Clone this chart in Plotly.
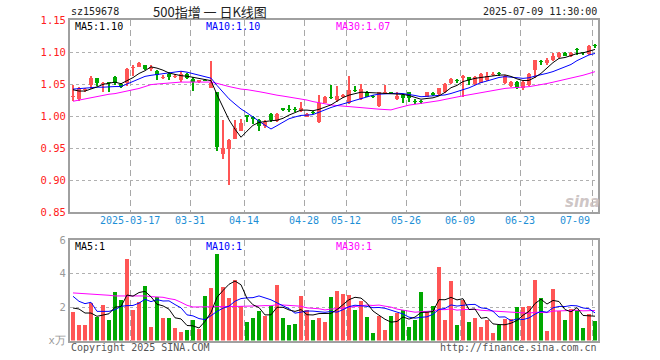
import plotly.graph_objects as go
import pandas as pd

# ---------------- data ----------------
dates = [
    "03-03", "03-04", "03-05", "03-06", "03-07", "03-10", "03-11", "03-12", "03-13", "03-14",
    "03-17", "03-18", "03-19", "03-20", "03-21", "03-24", "03-25", "03-26", "03-27", "03-28",
    "03-31", "04-01", "04-02", "04-03", "04-07", "04-08", "04-09", "04-10", "04-11", "04-14",
    "04-15", "04-16", "04-17", "04-18", "04-21", "04-22", "04-23", "04-24", "04-25", "04-28",
    "04-29", "04-30", "05-06", "05-07", "05-08", "05-09", "05-12", "05-13", "05-14", "05-15",
    "05-16", "05-19", "05-20", "05-21", "05-22", "05-23", "05-26", "05-27", "05-28", "05-29",
    "05-30", "06-03", "06-04", "06-05", "06-06", "06-09", "06-10", "06-11", "06-12", "06-13",
    "06-16", "06-17", "06-18", "06-19", "06-20", "06-23", "06-24", "06-25", "06-26", "06-27",
    "06-30", "07-01", "07-02", "07-03", "07-04", "07-07", "07-08", "07-09",
]

opens = [
    1.029, 1.026, 1.040, 1.049, 1.059, 1.050, 1.052, 1.061, 1.050, 1.051,
    1.075, 1.077, 1.080, 1.074, 1.071, 1.059, 1.066, 1.061, 1.056, 1.066,
    1.058, 1.053, 1.057, 1.044, 1.037, 0.940, 0.949, 0.964, 0.977, 1.001,
    0.999, 0.993, 0.985, 1.003, 0.992, 1.012, 1.011, 1.011, 1.008, 0.999,
    1.006, 0.990, 1.021, 1.029, 1.025, 1.030, 1.021, 1.040, 1.026, 1.038,
    1.032, 1.016, 1.036, 1.037, 1.026, 1.033, 1.037, 1.024, 1.023, 1.030,
    1.036, 1.034, 1.037, 1.051, 1.056, 1.060, 1.061, 1.050, 1.052, 1.056,
    1.064, 1.066, 1.051, 1.047, 1.053, 1.043, 1.048, 1.072, 1.085, 1.083,
    1.087, 1.092, 1.099, 1.093, 1.104, 1.099, 1.097, 1.111,
]
closes = [
    1.032, 1.043, 1.042, 1.059, 1.051, 1.052, 1.051, 1.052, 1.046, 1.074,
    1.077, 1.083, 1.074, 1.076, 1.064, 1.061, 1.061, 1.063, 1.066, 1.060,
    1.053, 1.056, 1.055, 1.052, 0.951, 0.950, 0.962, 0.982, 0.989, 0.999,
    0.995, 0.985, 0.990, 0.994, 1.003, 1.010, 1.010, 1.010, 1.013, 1.003,
    1.005, 1.021, 1.030, 1.028, 1.032, 1.033, 1.040, 1.039, 1.042, 1.030,
    1.030, 1.037, 1.038, 1.035, 1.031, 1.028, 1.028, 1.022, 1.022, 1.037,
    1.033, 1.043, 1.050, 1.058, 1.055, 1.063, 1.057, 1.061, 1.065, 1.062,
    1.066, 1.065, 1.063, 1.053, 1.043, 1.053, 1.066, 1.087, 1.084, 1.087,
    1.093, 1.099, 1.094, 1.099, 1.103, 1.098, 1.110, 1.110,
]
highs = [
    1.049, 1.045, 1.044, 1.062, 1.059, 1.053, 1.053, 1.062, 1.051, 1.075,
    1.080, 1.084, 1.080, 1.079, 1.072, 1.064, 1.069, 1.065, 1.071, 1.067,
    1.061, 1.057, 1.058, 1.086, 1.037, 0.993, 0.964, 0.994, 0.995, 1.002,
    1.000, 0.995, 0.993, 1.005, 1.005, 1.013, 1.017, 1.014, 1.022, 1.004,
    1.008, 1.033, 1.032, 1.049, 1.047, 1.035, 1.062, 1.047, 1.050, 1.039,
    1.033, 1.038, 1.049, 1.038, 1.038, 1.035, 1.038, 1.027, 1.025, 1.038,
    1.037, 1.044, 1.051, 1.059, 1.058, 1.064, 1.061, 1.063, 1.067, 1.068,
    1.068, 1.068, 1.064, 1.054, 1.054, 1.054, 1.067, 1.087, 1.088, 1.090,
    1.098, 1.100, 1.100, 1.100, 1.106, 1.100, 1.111, 1.113,
]
lows = [
    1.024, 1.024, 1.038, 1.042, 1.047, 1.037, 1.038, 1.049, 1.043, 1.047,
    1.062, 1.076, 1.072, 1.071, 1.057, 1.058, 1.057, 1.060, 1.053, 1.058,
    1.039, 1.052, 1.054, 1.044, 0.946, 0.933, 0.892, 0.964, 0.977, 0.990,
    0.987, 0.977, 0.982, 0.990, 0.990, 1.008, 1.006, 1.006, 1.007, 0.998,
    1.003, 0.989, 1.020, 1.026, 1.022, 1.028, 1.019, 1.037, 1.025, 1.029,
    1.028, 1.014, 1.034, 1.034, 1.025, 1.021, 1.022, 1.018, 1.019, 1.029,
    1.031, 1.033, 1.036, 1.050, 1.052, 1.029, 1.048, 1.049, 1.051, 1.055,
    1.063, 1.063, 1.050, 1.046, 1.042, 1.041, 1.047, 1.060, 1.080, 1.079,
    1.086, 1.091, 1.093, 1.092, 1.096, 1.096, 1.096, 1.107,
]
# volume, unit: 10k (x万)
volumes = [
    1.68, 0.94, 0.94, 2.26, 1.40, 2.14, 1.24, 2.92, 2.44, 4.84,
    1.80, 2.32, 3.28, 0.82, 2.60, 1.32, 1.32, 0.72, 0.48, 0.64,
    1.20, 0.70, 2.68, 3.16, 5.16, 3.22, 2.56, 3.64, 2.06, 1.08,
    1.32, 1.74, 1.44, 2.08, 3.34, 1.32, 0.94, 1.00, 2.64, 1.80,
    1.24, 1.36, 1.12, 2.58, 2.94, 2.80, 2.74, 1.84, 2.34, 1.42,
    0.46, 1.48, 0.64, 1.48, 1.62, 1.82, 0.82, 1.24, 2.88, 1.68,
    2.04, 4.36, 1.20, 3.58, 0.94, 2.40, 1.12, 1.36, 0.82, 1.20,
    0.46, 0.92, 1.30, 1.28, 2.02, 2.02, 2.08, 3.64, 2.56, 0.58,
    3.10, 1.76, 1.24, 1.88, 1.84, 0.76, 1.60, 1.18,
]

# moving-average values at the start of the window (read from the chart,
# they depend on days before the first visible candle)
ma5_head = [1.041, 1.039, 1.039, 1.042]
ma10_head = [1.042, 1.043, 1.043, 1.044, 1.045, 1.045, 1.046, 1.046, 1.046]
ma30_head = [
    1.023, 1.025, 1.027, 1.029, 1.031, 1.032, 1.034, 1.035, 1.037, 1.038,
    1.040, 1.043, 1.046, 1.049, 1.050, 1.051, 1.052, 1.053, 1.053, 1.053,
    1.053, 1.053, 1.053, 1.053, 1.051, 1.048, 1.046, 1.044, 1.042,
]
vma5_head = [1.94, 1.88, 1.64, 1.64]
vma10_head = [2.64, 2.34, 2.20, 2.28, 1.74, 1.74, 1.74, 1.84, 2.04]
vma30_head = [
    2.84, 2.82, 2.80, 2.80, 2.78, 2.74, 2.70, 2.66, 2.66, 2.68,
    2.68, 2.68, 2.66, 2.62, 2.60, 2.58, 2.50, 2.44, 2.28, 2.10,
    2.00, 2.00, 2.00, 2.00, 2.02, 2.04, 2.04, 2.04, 2.04,
]

tick_dates = ["03-17", "03-31", "04-14", "04-28", "05-12", "05-26", "06-09", "06-23", "07-09"]
tick_labels = ["2025-03-17", "03-31", "04-14", "04-28", "05-12", "05-26", "06-09", "06-23", "07-09"]
price_ticks = [0.85, 0.90, 0.95, 1.00, 1.05, 1.10, 1.15]
vol_ticks = [0, 2, 4, 6]
vol_tick_text = ["x万", "2", "4", "6"]

# ---------------- styling ----------------
RED = "#ff5555"
GREEN = "#00a800"
MONO = "DejaVu Sans Mono"
W, H = 660, 360
X0, X1 = 70, 598
MAIN_TOP, MAIN_BOT = 20, 212
VOL_TOP, VOL_BOT = 240, 340.5


def px_x(p):
    return p / W


def px_y(p):
    return 1 - p / H


def moving_avg(vals, n, head):
    s = pd.Series(vals).rolling(n).mean().tolist()
    return list(head) + s[len(head):]


idx = list(range(len(dates)))
up = [c >= o for o, c in zip(opens, closes)]
colors = [RED if u else GREEN for u in up]
body_base = [min(o, c) for o, c in zip(opens, closes)]
body_h = [max(abs(c - o), 0.0017) for o, c in zip(opens, closes)]
wick_h = [h - l for h, l in zip(highs, lows)]

ma5 = moving_avg(closes, 5, ma5_head)
ma10 = moving_avg(closes, 10, ma10_head)
ma30 = moving_avg(closes, 30, ma30_head)
vma5 = moving_avg(volumes, 5, vma5_head)
vma10 = moving_avg(volumes, 10, vma10_head)
vma30 = moving_avg(volumes, 30, vma30_head)

fig = go.Figure()

# candles: wicks then bodies
fig.add_trace(go.Bar(x=idx, y=wick_h, base=lows, width=0.17,
                     marker=dict(color=colors, line=dict(width=0)),
                     xaxis="x", yaxis="y", hoverinfo="skip"))
fig.add_trace(go.Bar(x=idx, y=body_h, base=body_base, width=0.8,
                     marker=dict(color=colors, line=dict(width=0)),
                     xaxis="x", yaxis="y", hoverinfo="skip"))
for vals, col in [(ma30, "#ff00ff"), (ma10, "#0000ff"), (ma5, "#000000")]:
    fig.add_trace(go.Scatter(x=idx, y=vals, mode="lines", line=dict(color=col, width=1),
                             xaxis="x", yaxis="y", hoverinfo="skip"))

# volume
fig.add_trace(go.Bar(x=idx, y=volumes, width=0.82,
                     marker=dict(color=colors, line=dict(width=0)),
                     xaxis="x2", yaxis="y2", hoverinfo="skip"))
for vals, col in [(vma30, "#ff00ff"), (vma10, "#0000ff"), (vma5, "#000000")]:
    fig.add_trace(go.Scatter(x=idx, y=vals, mode="lines", line=dict(color=col, width=1),
                             xaxis="x2", yaxis="y2", hoverinfo="skip"))

grid_x = [dates.index(d) - 0.5 for d in tick_dates]
xdom = [px_x(X0), px_x(X1)]
xcommon = dict(domain=xdom, range=[-0.5, len(dates) - 0.5], tickvals=grid_x,
               showticklabels=False, ticks="", showgrid=True, gridcolor="#a8a8a8",
               griddash="6px,4px", gridwidth=1, zeroline=False, showline=True,
               mirror=True, linecolor="#a0a0a0", linewidth=2, fixedrange=True)

fig.update_layout(
    width=W, height=H, margin=dict(l=0, r=0, t=0, b=0, autoexpand=False),
    paper_bgcolor="white", plot_bgcolor="white", showlegend=False,
    barmode="overlay", bargap=0,
    xaxis=dict(anchor="y", **xcommon),
    xaxis2=dict(anchor="y2", **xcommon),
    yaxis=dict(domain=[px_y(MAIN_BOT), px_y(MAIN_TOP)], range=[0.85, 1.15],
               tickvals=price_ticks, ticktext=[f"{v:.2f}" for v in price_ticks],
               tickfont=dict(family=MONO, size=10.5, color="#ff2020"),
               showgrid=True, gridcolor="#b0b0b0", griddash="dot", gridwidth=1,
               zeroline=False, showline=True, mirror=True, linecolor="#a0a0a0",
               linewidth=2, ticks="", fixedrange=True),
    yaxis2=dict(domain=[px_y(VOL_BOT), px_y(VOL_TOP)], range=[0, 6],
                tickvals=vol_ticks, ticktext=vol_tick_text,
                tickfont=dict(family=MONO, size=10.5, color="#999999"),
                showgrid=True, gridcolor="#b0b0b0", griddash="dot", gridwidth=1,
                zeroline=False, showline=True, mirror=True, linecolor="#a0a0a0",
                linewidth=2, ticks="", fixedrange=True),
)

ann = []


def text(x, y, s, color="#000", size=10, family=MONO, xanchor="left", **kw):
    ann.append(dict(x=px_x(x), y=px_y(y), xref="paper", yref="paper", text=s,
                    showarrow=False, xanchor=xanchor, yanchor="middle",
                    font=dict(family=family, size=size, color=color), **kw))


# header
text(69, 12, "sz159678", "#222")
text(210, 12, "500指增 一 日K线图", "#222", 13, "Noto Sans CJK SC", "center")
text(599, 12, "2025-07-09 11:30:00", "#222", 10, MONO, "right")
# MA legends (Sina truncates the values)
text(73, 27, f"MA5:{ma5[-1]:.2f}", "#000")
text(204, 27, f"MA10:{ma10[-1]:.2f}", "#0000ff")
text(334, 27, f"MA30:{ma30[-1]:.2f}", "#ff00ff")
text(73, 246, f"MA5:{int(vma5[-1])}", "#000")
text(204, 246, f"MA10:{int(vma10[-1])}", "#0000ff")
text(334, 246, f"MA30:{int(vma30[-1])}", "#ff00ff")
# footer
text(69, 347, "Copyright 2025 SINA.COM", "#555")
text(599, 347, "http://finance.sina.com.cn", "#555", 10, MONO, "right")
# watermark
text(582, 202, "<b><i>sina</i></b>", "rgba(200,190,190,0.9)", 15, "DejaVu Sans", "center")

fig.update_layout(annotations=ann)

# date labels on the shared date scale
for d, lab in zip(tick_dates, tick_labels):
    last = d == tick_dates[-1]
    fig.add_annotation(x=dates.index(d) - 0.5, y=px_y(220), xref="x", yref="paper",
                       text=lab, showarrow=False, xanchor="right" if last else "center",
                       yanchor="middle", font=dict(family=MONO, size=10, color="#1e8fd6"))

fig.write_html(
    "out.html",
    config={"displayModeBar": False, "staticPlot": True},
    post_script="document.body.style.margin='0';document.body.style.overflow='hidden';",
)
